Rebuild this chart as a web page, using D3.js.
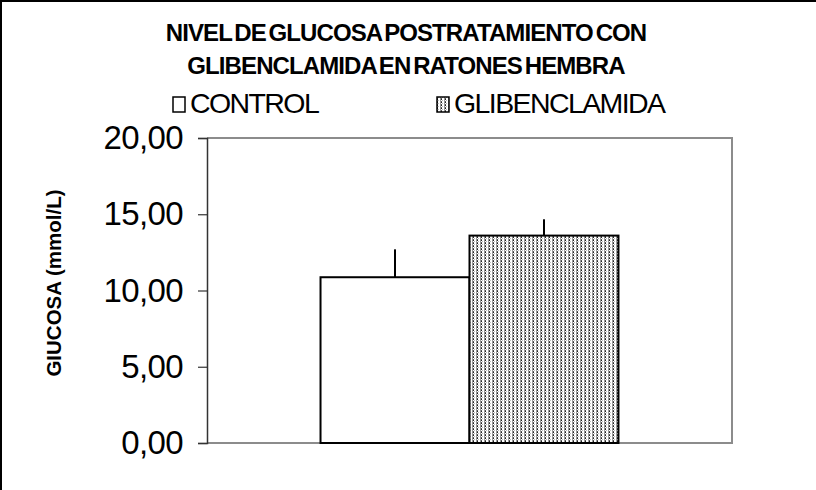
<!DOCTYPE html>
<html>
<head>
<meta charset="utf-8">
<script src="https://cdn.jsdelivr.net/npm/d3@7/dist/d3.min.js"></script>
<style>
  html, body { margin: 0; padding: 0; background: #fff; }
  svg { display: block; }
</style>
</head>
<body>
<svg id="chart" width="816" height="490"></svg>
<script>
// Chart data
const titleLines = ["NIVEL DE GLUCOSA POSTRATAMIENTO CON", "GLIBENCLAMIDA EN RATONES HEMBRA"];
const categories = ["grupo"];
const seriesNames = ["CONTROL", "GLIBENCLAMIDA"];
const seriesValues = [10.87, 13.60];
const seriesErrors = [1.83, 1.07];
const yTicks = [0, 5, 10, 15, 20];
const yLabel = "GIUCOSA (mmol/L)";

const svg = d3.select("#chart");
const W = 816, H = 490;
const plot = { left: 207, top: 138, right: 732, bottom: 443 };
const FONT = "Liberation Sans, Arial, sans-serif";

// Dotted fill for the second series
const defs = svg.append("defs");
const pat = defs.append("pattern")
  .attr("id", "dots").attr("patternUnits", "userSpaceOnUse")
  .attr("width", 4).attr("height", 3);
pat.append("rect").attr("width", 4).attr("height", 3).attr("fill", "#fff");
pat.append("rect").attr("x", 0).attr("y", 0).attr("width", 1).attr("height", 3).attr("fill", "#9a9a9a");
pat.append("rect").attr("x", 1).attr("y", 0).attr("width", 1).attr("height", 1).attr("fill", "#222");
pat.append("rect").attr("x", 1).attr("y", 2).attr("width", 1).attr("height", 1).attr("fill", "#555");
pat.append("rect").attr("x", 2).attr("y", 1).attr("width", 1).attr("height", 1).attr("fill", "#bbb");

// Outer frame
svg.append("rect")
  .attr("x", 1).attr("y", 1).attr("width", W + 10).attr("height", H + 10)
  .attr("fill", "none").attr("stroke", "#000").attr("stroke-width", 2);

// Scales
const y = d3.scaleLinear().domain([0, 20]).range([plot.bottom, plot.top]);
const x0 = d3.scaleBand().domain(categories).range([plot.left, plot.right]).paddingInner(0).paddingOuter(0.381);
const x1 = d3.scaleBand().domain(seriesNames).range([0, x0.bandwidth()]);

// Plot frame (right and top edges in gray)
svg.append("path")
  .attr("d", `M${plot.left},${plot.top}H${plot.right}V${plot.bottom}H${plot.left}`)
  .attr("fill", "none").attr("stroke", "#8c8c8c").attr("stroke-width", 2);

// Y axis
const yAxis = d3.axisLeft(y).tickValues(yTicks).tickSize(9).tickPadding(15)
  .tickFormat(d => d3.format(".2f")(d).replace(".", ","));
const gy = svg.append("g").attr("transform", `translate(${plot.left},0)`).call(yAxis);
gy.select(".domain").attr("stroke", "#333").attr("stroke-width", 1.5);
gy.selectAll(".tick line").attr("stroke", "#333").attr("stroke-width", 1.2);
gy.selectAll(".tick text")
  .attr("font-family", FONT)
  .attr("font-size", 33).attr("fill", "#000")
  .attr("letter-spacing", -0.6);

// Bars
const fills = ["#fff", "url(#dots)"];
const bars = categories.map(c => seriesNames.map((s, i) => ({ c, s, i, v: seriesValues[i], e: seriesErrors[i] }))).flat();

// Error bars (upward only)
svg.selectAll(".err").data(bars).enter().append("line")
  .attr("class", "err")
  .attr("x1", d => x0(d.c) + x1(d.s) + x1.bandwidth() / 2)
  .attr("x2", d => x0(d.c) + x1(d.s) + x1.bandwidth() / 2)
  .attr("y1", d => y(d.v))
  .attr("y2", d => y(d.v + d.e))
  .attr("stroke", "#000").attr("stroke-width", 2);

svg.selectAll(".bar").data(bars).enter().append("rect")
  .attr("class", "bar")
  .attr("x", d => x0(d.c) + x1(d.s))
  .attr("y", d => y(d.v))
  .attr("width", x1.bandwidth())
  .attr("height", d => y(0) - y(d.v))
  .attr("fill", d => fills[d.i])
  .attr("stroke", "#000").attr("stroke-width", 2);

// Title
const title = svg.append("text")
  .attr("text-anchor", "middle")
  .attr("font-family", FONT)
  .attr("font-weight", "bold").attr("font-size", 24)
  .attr("letter-spacing", -0.9)
  .attr("word-spacing", -3);
titleLines.forEach((t, i) => {
  title.append("tspan").attr("x", 406).attr("y", 41 + i * 33).text(t);
});

// Legend
const legendX = [173, 437];
seriesNames.forEach((s, i) => {
  svg.append("rect")
    .attr("x", legendX[i]).attr("y", 97).attr("width", 12).attr("height", 15)
    .attr("fill", fills[i]).attr("stroke", "#000").attr("stroke-width", 1.5);
  svg.append("text")
    .attr("x", legendX[i] + 17).attr("y", 113)
    .attr("font-family", FONT)
    .attr("font-size", 28.5).attr("letter-spacing", -1.6)
    .text(s);
});

// Y label
svg.append("text")
  .attr("transform", `translate(61,283) rotate(-90)`)
  .attr("text-anchor", "middle")
  .attr("font-family", FONT)
  .attr("font-weight", "bold").attr("font-size", 20.5)
  .text(yLabel);
</script>
</body>
</html>
